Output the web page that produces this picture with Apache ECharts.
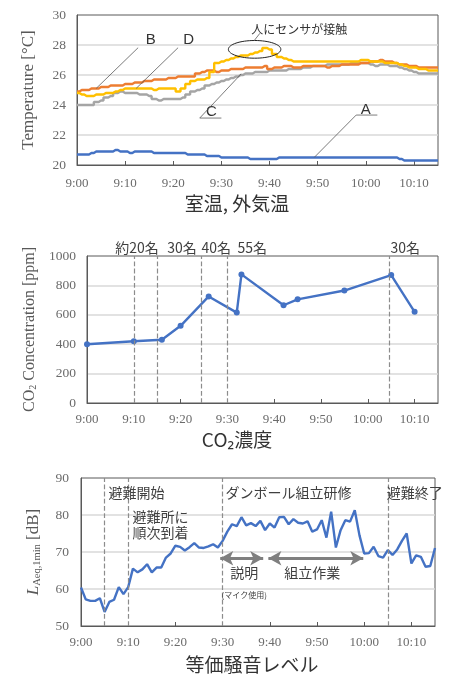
<!DOCTYPE html>
<html>
<head>
<meta charset="utf-8">
<script src="https://cdn.jsdelivr.net/npm/echarts@6/dist/echarts.min.js"></script>
<style>
  html, body { margin: 0; padding: 0; background: #fff; }
  #c { width: 462px; height: 686px; }
</style>
</head>
<body>
<div id="c"></div>
<script>
// ---- Room / outdoor temperature, one reading per minute from 9:00 ----
const tempA = [20.7,20.7,20.7,20.8,20.9,20.9,20.9,20.9,21.0,20.9,20.9,20.8,20.9,20.9,20.9,20.9,20.8,20.8,20.8,20.8,
  20.8,20.8,20.8,20.7,20.7,20.7,20.7,20.6,20.6,20.6,20.5,20.5,20.5,20.5,20.5,20.5,20.4,20.4,20.4,20.4,
  20.4,20.4,20.5,20.5,20.5,20.5,20.5,20.5,20.5,20.5,20.5,20.5,20.5,20.5,20.5,20.5,20.5,20.5,20.5,20.5,
  20.5,20.5,20.5,20.5,20.5,20.5,20.5,20.4,20.3,20.3,20.3,20.3,20.3,20.3,20.3,20.3];
const tempB = [24.9,25.0,25.0,25.1,25.1,25.2,25.2,25.3,25.3,25.3,25.4,25.4,25.5,25.5,25.6,25.6,25.7,25.7,25.7,25.8,
  25.8,25.9,25.9,25.9,25.9,26.1,26.2,26.3,26.3,26.2,26.3,26.3,26.4,26.4,26.4,26.5,26.5,26.5,26.5,26.6,
  26.4,26.5,26.5,26.6,26.6,26.5,26.5,26.6,26.6,26.6,26.6,26.6,26.5,26.6,26.6,26.7,26.7,26.7,26.7,26.8,
  26.8,26.9,26.9,27.0,26.9,26.9,26.8,26.7,26.7,26.6,26.6,26.5,26.5,26.5,26.5,26.5];
const tempC = [24.0,24.0,24.0,24.0,24.2,24.3,24.5,24.6,24.8,24.9,24.8,24.8,24.8,24.7,24.7,24.6,24.4,24.3,24.4,24.4,
  24.4,24.4,24.5,24.7,24.9,25.0,25.1,25.3,25.4,25.5,25.6,25.7,25.8,25.9,26.0,26.1,26.1,26.2,26.2,26.2,
  26.3,26.3,26.3,26.3,26.4,26.4,26.4,26.5,26.5,26.6,26.6,26.6,26.7,26.7,26.7,26.7,26.7,26.8,26.8,26.8,
  26.8,26.7,26.6,26.7,26.7,26.6,26.6,26.5,26.4,26.3,26.2,26.1,26.1,26.1,26.1,26.1];
const tempD = [24.8,24.7,24.6,24.6,24.7,24.7,24.8,24.8,24.9,25.0,25.1,25.1,25.1,25.1,25.1,25.1,25.0,25.1,25.1,25.1,
  25.1,24.9,25.1,25.4,25.6,25.7,25.7,25.8,26.2,26.8,26.9,27.0,27.1,27.2,27.3,27.3,27.4,27.5,27.6,27.8,
  27.7,27.4,27.2,27.1,27.0,26.9,26.9,26.9,26.9,26.9,26.9,26.9,26.9,26.9,26.9,26.9,26.9,26.9,26.9,27.0,
  27.0,26.9,26.9,26.9,26.8,26.8,26.8,26.7,26.6,26.5,26.5,26.4,26.4,26.3,26.3,26.3];

// ---- CO2 spot measurements (minutes after 9:00, ppm) ----
const co2Minutes = [0, 10, 16, 20, 26, 32, 33, 42, 45, 55, 65, 70];
const co2Values  = [400, 420, 430, 525, 725, 615, 875, 665, 705, 765, 870, 620];
const headcountAt     = [10, 15, 24.5, 30, 64.5];
const headcountLabels = ['約20名', '30名', '40名', '55名', '30名'];
const headcountLabelX = [10.7, 20.3, 27.6, 35.3, 68];

// ---- 1-minute equivalent noise level, dB ----
const noiseValues = [60.4,57.2,56.8,56.8,57.5,53.8,56.5,57.1,60.5,58.6,60.5,65.5,64.5,65.3,66.7,64.5,65.8,65.8,68.5,69.6,
  71.7,71.4,70.4,71.3,72.4,71.2,71.1,71.5,72.1,71.2,73.0,75.5,77.5,77.0,79.4,77.2,77.8,77.0,78.4,75.9,
  77.7,76.6,79.4,79.5,77.5,78.9,77.9,77.7,78.3,75.5,76.1,78.6,73.9,80.9,71.2,75.9,78.6,78.2,81.3,74.5,
  69.6,69.7,71.4,68.9,68.5,70.5,69.2,70.7,73.0,75.0,66.9,69.1,68.7,66.0,66.2,71.1];
const eventAt = [5, 10, 30, 65];

const minutes = tempA.map((_, i) => i);

const serif = '"Liberation Serif", "Times New Roman", serif';
const sans = '"Noto Sans CJK JP", "Noto Sans", sans-serif';
const latin = '"Liberation Sans", Arial, sans-serif';
const tickGrey = '#6b6b6b';
const inkGrey = '#404040';
const frame = '#595959';

function timeLabel(v) {
  if (v % 10 !== 0) return '';
  const h = 9 + Math.floor(v / 60);
  const m = v % 60;
  return h + ':' + String(m).padStart(2, '0');
}

const grids = [
  { left: 77, top: 15, width: 361, height: 150 },
  { left: 87, top: 256, width: 351, height: 147 },
  { left: 81, top: 478, width: 354, height: 148 }
];
const labelMargins = [12, 10, 10];

const xAxes = grids.map((g, i) => ({
  gridIndex: i, type: 'value', min: 0, max: 75, interval: 10,
  axisLine: { show: true, lineStyle: { color: frame, width: 1 } },
  axisTick: { show: true, inside: true, length: 4, lineStyle: { color: frame } },
  axisLabel: { formatter: timeLabel, color: tickGrey, fontFamily: serif, fontSize: 13,
               margin: labelMargins[i], showMaxLabel: false },
  splitLine: { show: false }
}));

const plainNumber = v => String(v);
const yBase = {
  type: 'value',
  axisLine: { show: true, lineStyle: { color: frame, width: 1 } },
  axisTick: { show: false },
  splitLine: { show: true, showMinLine: false, showMaxLine: false, lineStyle: { color: '#d9d9d9', width: 1.5 } },
  nameLocation: 'middle', nameRotate: 90,
  nameTextStyle: { fontFamily: serif, fontSize: 17, color: '#595959' }
};
const yAxes = [
  Object.assign({}, yBase, { gridIndex: 0, min: 20, max: 30, interval: 2, name: 'Temperature [°C]', nameGap: 40,
    axisLabel: { color: tickGrey, fontFamily: serif, fontSize: 13.5, margin: 11, formatter: plainNumber } }),
  Object.assign({}, yBase, { gridIndex: 1, min: 0, max: 1000, interval: 200, nameGap: 46,
    name: 'CO{sub|2} Concentration [ppm]',
    nameTextStyle: { fontFamily: serif, fontSize: 16, color: '#595959',
      rich: { sub: { fontFamily: serif, fontSize: 10, color: '#595959', padding: [7, 0, 0, 0] } } },
    axisLabel: { color: tickGrey, fontFamily: serif, fontSize: 13.5, margin: 11, formatter: plainNumber } }),
  Object.assign({}, yBase, { gridIndex: 2, min: 50, max: 90, interval: 10, nameGap: 38,
    name: '{i|L}{sub|Aeq,1min} [dB]',
    nameTextStyle: { fontFamily: serif, fontSize: 17, color: '#595959',
      rich: { i: { fontFamily: serif, fontSize: 17, fontStyle: 'italic', color: '#595959' },
              sub: { fontFamily: serif, fontSize: 10.5, color: '#595959', padding: [7, 0, 0, 0] } } },
    axisLabel: { color: tickGrey, fontFamily: serif, fontSize: 13.5, margin: 12, formatter: plainNumber } })
];

function tempSeries(name, values, color) {
  return {
    name, type: 'line', xAxisIndex: 0, yAxisIndex: 0, step: 'middle',
    data: minutes.map((m, i) => [m, values[i]]),
    showSymbol: false, lineStyle: { color, width: 2.4 }, itemStyle: { color }, silent: true
  };
}

const dashed = { type: 'dashed', color: '#8c8c8c', width: 1.2 };

const option = {
  animation: false,
  backgroundColor: '#fff',
  grid: grids.map(g => Object.assign({ show: true, borderColor: frame, borderWidth: 1 }, g)),
  xAxis: xAxes,
  yAxis: yAxes,
  series: [
    tempSeries('A', tempA, '#4472c4'),
    tempSeries('C', tempC, '#a5a5a5'),
    tempSeries('B', tempB, '#ed7d31'),
    tempSeries('D', tempD, '#ffc000'),
    {
      name: 'CO2', type: 'line', xAxisIndex: 1, yAxisIndex: 1,
      data: co2Minutes.map((m, i) => [m, co2Values[i]]),
      symbol: 'circle', symbolSize: 6, showSymbol: true,
      lineStyle: { color: '#4472c4', width: 2.4 }, itemStyle: { color: '#4472c4' },
      markLine: { silent: true, symbol: 'none', label: { show: false }, lineStyle: dashed,
        data: headcountAt.map(v => ({ xAxis: v })) }
    },
    {
      name: 'noise', type: 'line', xAxisIndex: 2, yAxisIndex: 2,
      data: minutes.map((m, i) => [m, noiseValues[i]]),
      showSymbol: false, lineStyle: { color: '#4472c4', width: 2.4 }, itemStyle: { color: '#4472c4' },
      markLine: { silent: true, symbol: 'none', label: { show: false }, lineStyle: dashed,
        data: eventAt.map(v => ({ xAxis: v })) }
    },
    {
      name: 'phases', type: 'line', xAxisIndex: 2, yAxisIndex: 2, data: [], silent: true,
      markLine: {
        silent: true, symbol: ['arrow', 'arrow'], symbolSize: [11, 13], label: { show: false },
        lineStyle: { type: 'solid', color: '#7f7f7f', width: 3 },
        data: [
          [{ coord: [29.5, 68.3] }, { coord: [38.6, 68.3] }],
          [{ coord: [39.7, 68.3] }, { coord: [59.8, 68.3] }]
        ]
      }
    }
  ]
};

const chart = echarts.init(document.getElementById('c'), null, { renderer: 'canvas' });
chart.setOption(option);

// ---- annotations placed in data coordinates ----
const px = (g, x, y) => chart.convertToPixel({ gridIndex: g }, [x, y]);

function text(g, x, y, str, opts) {
  const p = px(g, x, y);
  return { type: 'text', x: p[0], y: p[1], z: 10, silent: true,
    style: Object.assign({ text: str, fill: inkGrey, font: '14px ' + sans, align: 'left', verticalAlign: 'middle' }, opts || {}) };
}
function polyline(g, pts) {
  return { type: 'polyline', z: 10, silent: true,
    shape: { points: pts.map(p => px(g, p[0], p[1])) },
    style: { stroke: '#595959', lineWidth: 0.8, fill: null } };
}

const graphics = [];
// temperature panel callouts
graphics.push(text(0, 15.3, 28.33, 'B', { font: '15px ' + latin, align: 'center', fill: '#333' }));
graphics.push(polyline(0, [[12.7, 27.82], [4.0, 25.11]]));
graphics.push(text(0, 23.2, 28.33, 'D', { font: '15px ' + latin, align: 'center', fill: '#333' }));
graphics.push(polyline(0, [[21.0, 27.82], [12.3, 25.11]]));
graphics.push(text(0, 27.9, 23.53, 'C', { font: '15px ' + latin, align: 'center', fill: '#333' }));
graphics.push(polyline(0, [[34.1, 26.07], [25.5, 23.13], [30.0, 23.13]]));
graphics.push(text(0, 60.0, 23.67, 'A', { font: '15px ' + latin, align: 'center', fill: '#333' }));
graphics.push(polyline(0, [[49.3, 20.51], [58.0, 23.33], [62.4, 23.33]]));
(function () {
  const c = px(0, 36.9, 27.71);
  const e = px(0, 36.9 + 5.45, 27.71 + 0.59);
  graphics.push({ type: 'ellipse', z: 10, silent: true,
    shape: { cx: c[0], cy: c[1], rx: Math.abs(e[0] - c[0]), ry: Math.abs(c[1] - e[1]) },
    style: { stroke: '#222', lineWidth: 1, fill: null } });
})();
graphics.push(polyline(0, [[36.8, 28.29], [38.0, 28.78]]));
graphics.push(text(0, 36.2, 29.05, '人にセンサが接触', { font: '12px ' + sans, fill: '#333' }));

// headcount labels above the CO2 panel
headcountLabels.forEach((s, i) => {
  graphics.push(text(1, headcountLabelX[i], 1054, s, { font: '14px ' + sans, align: 'center' }));
});

// noise panel event notes
graphics.push(text(2, 5.8, 86.0, '避難開始'));
graphics.push(text(2, 10.9, 79.5, '避難所に'));
graphics.push(text(2, 10.9, 75.1, '順次到着'));
graphics.push(text(2, 30.6, 86.0, 'ダンボール組立研修'));
graphics.push(text(2, 64.8, 86.0, '避難終了'));
graphics.push(text(2, 34.6, 64.3, '説明', { align: 'center' }));
graphics.push(text(2, 49.0, 64.3, '組立作業', { align: 'center' }));
graphics.push(text(2, 34.6, 58.3, '(マイク使用)', { font: '8px ' + sans, align: 'center' }));

// panel captions
const captions = [['室温, 外気温', 237, 204], ['CO₂濃度', 237, 440], ['等価騒音レベル', 252, 665]];
captions.forEach(c => {
  graphics.push({ type: 'text', x: c[1], y: c[2], z: 10, silent: true,
    style: { text: c[0], fill: '#333', font: '19px ' + sans, align: 'center', verticalAlign: 'middle' } });
});

chart.setOption({ graphic: graphics });
</script>
</body>
</html>
